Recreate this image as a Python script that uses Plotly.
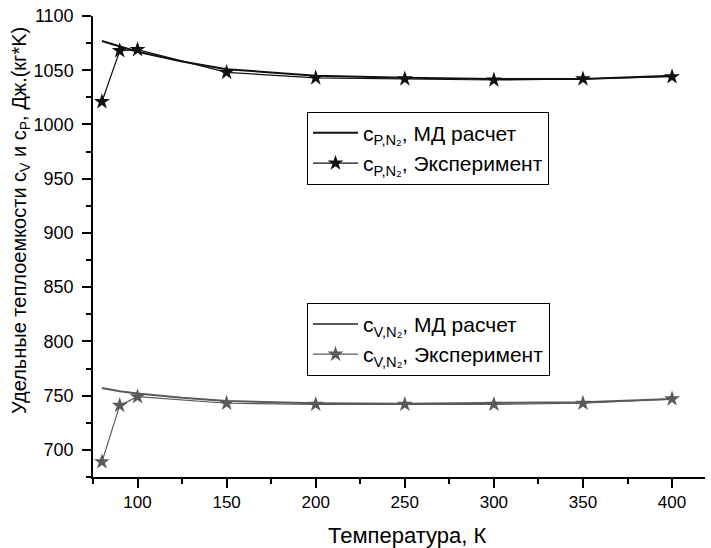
import plotly.graph_objects as go

T_exp = [80, 90, 100, 150, 200, 250, 300, 350, 400]
cp_exp = [1021, 1068, 1069, 1048, 1043, 1042, 1041, 1042, 1044]
cv_exp = [689, 741, 749, 743, 742, 742, 742, 743, 747]

T_md = [80, 90, 100, 125, 150, 200, 250, 300, 350, 400]
cp_md = [1077, 1072, 1067, 1058, 1051, 1045, 1043, 1042, 1042, 1045]
cv_md = [757, 754, 752, 748, 745, 743, 742.5, 743, 744, 747]

BLACK = "#111111"
GRAY = "#5a5a5a"
FONT = "Liberation Sans, Arial, sans-serif"

fig = go.Figure()
fig.add_trace(go.Scatter(x=T_md, y=cp_md, mode="lines", line=dict(color=BLACK, width=2),
                         name="c<sub>P,N₂</sub>, МД расчет", legend="legend"))
fig.add_trace(go.Scatter(x=T_exp, y=cp_exp, mode="lines+markers", line=dict(color=BLACK, width=1.2),
                         marker=dict(symbol="star", size=12, color=BLACK),
                         name="c<sub>P,N₂</sub>, Эксперимент", legend="legend"))
fig.add_trace(go.Scatter(x=T_md, y=cv_md, mode="lines", line=dict(color=GRAY, width=2),
                         name="c<sub>V,N₂</sub>, МД расчет", legend="legend2"))
fig.add_trace(go.Scatter(x=T_exp, y=cv_exp, mode="lines+markers", line=dict(color=GRAY, width=1.2),
                         marker=dict(symbol="star", size=12, color=GRAY),
                         name="c<sub>V,N₂</sub>, Эксперимент", legend="legend2"))

W, H = 711, 548
L, R, T, B = 93, 6, 14, 71
pw, ph = W - L - R, H - T - B

def px_x(x):
    return (x - L) / pw

def px_y(y):
    return (H - B - y) / ph

legend_style = dict(bgcolor="white", bordercolor="black", borderwidth=1,
                    font=dict(family=FONT, size=21, color="black"),
                    xanchor="left", yanchor="top", tracegroupgap=0, itemwidth=45)

fig.update_layout(
    width=W, height=H,
    margin=dict(l=L, r=R, t=T, b=B),
    paper_bgcolor="white", plot_bgcolor="white",
    font=dict(family=FONT, size=17, color="black"),
    legend=dict(x=px_x(307), y=px_y(110), **legend_style),
    legend2=dict(x=px_x(307), y=px_y(302), **legend_style),
    xaxis=dict(range=[75, 418.5], tickvals=[100, 150, 200, 250, 300, 350, 400],
               ticks="outside", ticklen=9, tickwidth=1.5, tickcolor="black",
               showline=True, linecolor="black", linewidth=1.5, showgrid=False, zeroline=False,
               minor=dict(tickvals=[75, 125, 175, 225, 275, 325, 375], ticks="outside", ticklen=5,
                          tickwidth=1.5, tickcolor="black"),
               tickfont=dict(size=17), ticklabelstandoff=0),
    yaxis=dict(range=[675, 1100], tickvals=[700, 750, 800, 850, 900, 950, 1000, 1050, 1100],
               ticks="outside", ticklen=9, tickwidth=1.5, tickcolor="black",
               showline=True, linecolor="black", linewidth=1.5, showgrid=False, zeroline=False,
               minor=dict(tickvals=[675, 725, 775, 825, 875, 925, 975, 1025, 1075], ticks="outside",
                          ticklen=5, tickwidth=1.5, tickcolor="black"),
               tickfont=dict(size=18), ticklabelstandoff=5),
    annotations=[
        dict(text="Температура, К", xref="paper", yref="paper", x=px_x(407), y=px_y(536),
             showarrow=False, font=dict(size=22), xanchor="center", yanchor="middle"),
        dict(text="Удельные теплоемкости c<sub>V</sub> и c<sub>P</sub>, Дж.(кг*K)",
             xref="paper", yref="paper", x=px_x(20), y=px_y(220), textangle=-90,
             showarrow=False, font=dict(size=20), xanchor="center", yanchor="middle"),
    ],
)

fig.write_html("out.html")
